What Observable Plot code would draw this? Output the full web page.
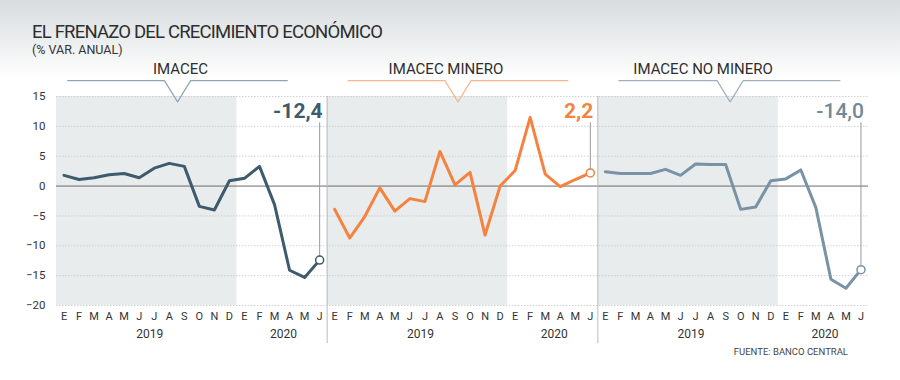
<!DOCTYPE html>
<html>
<head>
<meta charset="utf-8">
<script src="https://cdn.jsdelivr.net/npm/d3@7"></script>
<script src="https://cdn.jsdelivr.net/npm/@observablehq/plot@0.6"></script>
<style>
  html, body { margin: 0; padding: 0; background: #fff; }
  #wrap { position: relative; width: 900px; height: 380px; overflow: hidden;
          background: linear-gradient(to bottom, #d8dcdf 0px, #eef0f1 45px, #ffffff 78px, #ffffff 380px);
          font-family: Roboto, "Open Sans", sans-serif; color: #333; }
  #title { position: absolute; left: 32px; top: 23px; font-size: 18.5px; line-height: 1; letter-spacing: -0.8px; color: #2e2e2e; white-space: nowrap; }
  #subtitle { position: absolute; left: 32px; top: 44px; font-size: 12.5px; line-height: 1; color: #333; white-space: nowrap; }
  #source { position: absolute; right: 52px; top: 347px; font-size: 9.5px; line-height: 1; color: #444; white-space: nowrap; }
  #chart { position: absolute; left: 0; top: 0; }
</style>
</head>
<body>
<div id="wrap">
  <div id="chart"></div>
  <div id="title">EL FRENAZO DEL CRECIMIENTO ECONÓMICO</div>
  <div id="subtitle">(% VAR. ANUAL)</div>
  <div id="source">FUENTE: BANCO CENTRAL</div>
</div>
<script>
// ---- data ----
const months = ["E","F","M","A","M","J","J","A","S","O","N","D","E","F","M","A","M","J"];
const years = ["2019", "2020"];
const seriesNames = ["IMACEC", "IMACEC MINERO", "IMACEC NO MINERO"];
const imacec   = [1.8, 1.1, 1.4, 1.9, 2.1, 1.4, 3.0, 3.8, 3.3, -3.4, -4.0, 0.9, 1.3, 3.3, -3.1, -14.1, -15.3, -12.4];
const minero   = [-3.9, -8.7, -5.1, -0.3, -4.2, -2.1, -2.6, 5.8, 0.2, 2.3, -8.2, 0.0, 2.6, 11.5, 2.0, -0.1, 1.1, 2.2];
const noMinero = [2.4, 2.1, 2.1, 2.1, 2.8, 1.8, 3.7, 3.6, 3.6, -3.9, -3.5, 0.9, 1.2, 2.7, -3.6, -15.6, -17.1, -14.0];
const lastLabels = ["-12,4", "2,2", "-14,0"];
const yTicks = [15, 10, 5, 0, -5, -10, -15, -20];

// ---- styling ----
const lineColors   = ["#3d5b6d", "#f5823e", "#7892a6"];
const labelColors  = ["#3d5b6d", "#f5823e", "#71899b"];
const labelWeights = [700, 700, 500];
const headColors   = ["#8ea5b3", "#f9b58c", "#9fb0bc"];
const n = months.length;              // 18 months per panel
const allSeries = [imacec, minero, noMinero];

const rows = allSeries.flatMap((vals, p) => vals.map((v, i) => ({p, series: seriesNames[p], idx: p * n + i, value: v})));
const lastRows = allSeries.map((vals, p) => ({p, idx: p * n + vals.length - 1, value: vals[vals.length - 1], label: lastLabels[p]}));
const panels = seriesNames.map((s, p) => ({p, name: s}));
const yearRows = panels.flatMap(({p}) => [{p, year: years[0], idx: p * n + 5.7}, {p, year: years[1], idx: p * n + 14.6}]);

// header bracket geometry (relative to each panel, in month units)
const headGeom = [
  {start: 0.25, end: 14.85, notch: 7.55, text: 7.75},
  {start: 0.9,  end: 15.5,  notch: 8.2,  text: 7.4},
  {start: 0.9,  end: 15.6,  notch: 8.3,  text: 6.5}
];
const yLine = 17.65, yNotch = 14.1, halfNotch = 0.87;
const headLines = panels.flatMap(({p}) => {
  const g = headGeom[p], o = p * n;
  return [
    {p, x: o + g.start, y: yLine},
    {p, x: o + g.notch - halfNotch, y: yLine},
    {p, x: o + g.notch, y: yNotch},
    {p, x: o + g.notch + halfNotch, y: yLine},
    {p, x: o + g.end, y: yLine}
  ];
});
const headTexts = panels.map(({p, name}) => ({p, name, x: p * n + headGeom[p].text}));

const marks = [
  // shaded 2019 backgrounds
  Plot.rect(panels, {x1: d => d.p * n - 0.5, x2: d => d.p * n + 11.5, y1: -20, y2: 15, fill: "#e8ecec"}),
  // grid
  Plot.ruleY(yTicks.filter(t => t !== 0), {stroke: "#c4c8ca", strokeWidth: 0.8, strokeDasharray: "1.5,1.5"}),
  Plot.ruleY([0], {stroke: "#6a6a6a", strokeWidth: 1}),
  // panel separators
  Plot.ruleX([n - 0.5, 2 * n - 0.5], {y1: 15, y2: -26.4, stroke: "#b9bcbe", strokeWidth: 1}),
  // axes
  Plot.axisY(yTicks, {tickSize: 0, tickPadding: 11, fontSize: 11.5, label: null, fill: "#333"}),
  Plot.axisX(d3.range(3 * n), {tickFormat: i => months[i % n], tickSize: 0, tickPadding: 7, fontSize: 11, label: null, fill: "#333"}),
  Plot.text(yearRows, {x: "idx", y: -20, text: "year", dy: 29, fontSize: 12, fill: "#333"}),
  // headers
  ...panels.map(({p}) => Plot.line(headLines.filter(d => d.p === p), {x: "x", y: "y", stroke: headColors[p], strokeWidth: 1.2})),
  Plot.text(headTexts, {x: "x", y: 18.8, text: "name", lineAnchor: "bottom", fontSize: 15, fill: "#2e2e2e"}),
  // callout rules
  Plot.ruleX(lastRows, {x: "idx", y1: 10.6, y2: "value", stroke: "#9a9a9a", strokeWidth: 1}),
  // series lines
  ...allSeries.map((vals, p) => Plot.line(rows.filter(d => d.p === p), {x: "idx", y: "value", stroke: lineColors[p], strokeWidth: 3, curve: "linear"})),
  // endpoints
  ...lastRows.map(d => Plot.dot([d], {x: "idx", y: "value", r: 4, fill: "white", stroke: lineColors[d.p], strokeWidth: 1.5})),
  // value labels
  ...lastRows.map(d => Plot.text([d], {x: "idx", y: 12.6, text: "label", textAnchor: "end", dx: 3, fontSize: 21, fontWeight: labelWeights[d.p], fill: labelColors[d.p]}))
];

const chart = Plot.plot({
  width: 900,
  height: 380,
  marginTop: 96,
  marginBottom: 75,
  marginLeft: 56,
  marginRight: 32,
  x: {domain: [-0.5, 3 * n - 0.5], axis: null},
  y: {domain: [-20, 15], axis: null},
  style: {background: "transparent", fontFamily: "Roboto, sans-serif", overflow: "visible"},
  marks
});
document.getElementById("chart").appendChild(chart);
</script>
</body>
</html>
